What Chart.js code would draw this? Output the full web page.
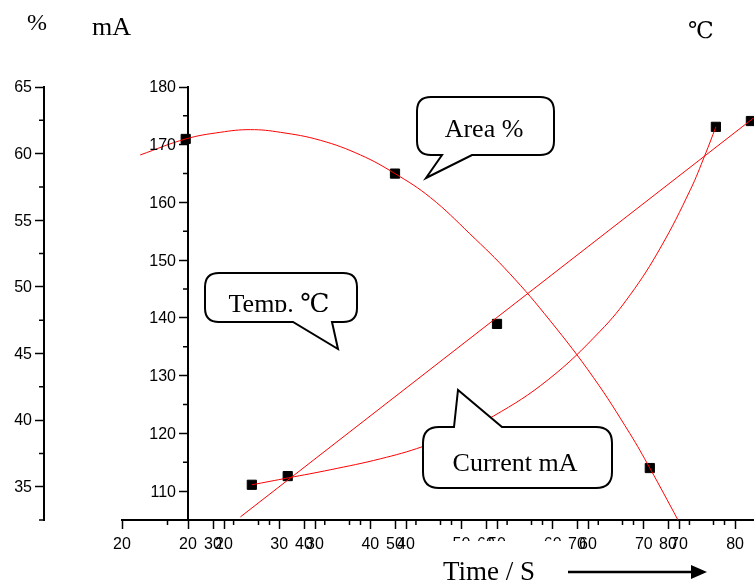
<!DOCTYPE html>
<html>
<head>
<meta charset="utf-8">
<script src="https://cdn.jsdelivr.net/npm/chart.js@4.4.1/dist/chart.umd.min.js"></script>
<style>
  html, body { margin: 0; padding: 0; background: #fff; }
</style>
</head>
<body>
<canvas id="chart" width="754" height="582"></canvas>
<script>
// data
const areaX = [27.0, 50.0, 78.0]
const areaY = [61.1, 58.5, 36.4]
const currentX = [27.0, 49.8, 77.9]
const currentY = [111.1, 120.4, 173.1]
const tempX = [27.0, 50.0, 77.9]
const tempY = [37.1, 61.7, 94.5]

// red fit curves
const areaFitX = [22.0, 27.0, 30.8, 34.1, 37.4, 41.8, 46.2, 50.0, 53.9, 58.2, 62.6, 67.0, 71.8, 75.8, 78.0, 81.1]
const areaFitY = [59.9, 61.1, 61.6, 61.8, 61.6, 61.0, 59.9, 58.5, 56.7, 54.0, 51.0, 47.5, 43.2, 39.0, 36.4, 32.5]
const currentFitX = [27.0, 31.0, 35.6, 41.1, 45.7, 49.8, 53.5, 59.5, 65.2, 68.5, 71.8, 75.1, 76.7, 77.9]
const currentFitY = [111.1, 112.3, 113.7, 115.6, 117.7, 120.4, 123.0, 129.3, 137.7, 144.0, 152.1, 162.2, 168.2, 173.1]
const tempFitX = [21.8, 78.2]
const tempFitY = [30.5, 95.0]

// tick labels
const timeTicksA = [20, 30, 40, 50, 60, 70, 80]
const timeTicksB = [20, 30, 40, 50, 60, 70, 80]
const timeTicksC = [20, 30, 40, 50, 60, 70]
const pctTicks = [35, 40, 45, 50, 55, 60, 65]
const mATicks = [110, 120, 130, 140, 150, 160, 170, 180]

const pts = (xs, ys) => xs.map((x, i) => ({ x, y: ys[i] }))

const tickFont = { family: '"Liberation Sans", Arial, sans-serif', size: 16 }
const serif = '"Liberation Serif", "DejaVu Serif", serif'

const noPad = s => { s.paddingLeft = 0; s.paddingRight = 0; s.paddingTop = 0; s.paddingBottom = 0 }

function xScale(min, max, vals) {
  return {
    type: 'linear', min, max,
    position: { yMA: 105 },
    afterBuildTicks: s => { s.ticks = vals.map(v => ({ value: v })) },
    afterFit: noPad,
    grid: { drawOnChartArea: false, tickLength: 8, tickColor: '#000', tickWidth: 1.5 },
    border: { color: '#000', width: 2 },
    ticks: { color: '#000', font: tickFont, padding: 7, maxRotation: 0, autoSkip: false }
  }
}

// y labels are drawn by the plugin below, beside the axis line
function yScale(min, max, vals, pos) {
  return {
    type: 'linear', min, max,
    position: pos,
    afterBuildTicks: s => { s.ticks = vals.map(v => ({ value: v })) },
    afterFit: noPad,
    grid: { drawOnChartArea: false, tickLength: 8, tickColor: '#000', tickWidth: 1.5 },
    border: { color: '#000', width: 2 },
    ticks: { display: false }
  }
}

// short ticks between the labelled ones + y tick labels
const axisExtras = {
  id: 'axisExtras',
  afterDraw(chart) {
    const ctx = chart.ctx
    const list = [
      ['xA', 'x', [25, 35, 45, 55, 65, 75, 85]],
      ['xB', 'x', [25, 35, 45, 55, 65, 75]],
      ['xC', 'x', [25, 35, 45, 55, 65, 75]],
      ['yPct', 'y', [32.5, 37.5, 42.5, 47.5, 52.5, 57.5, 62.5]],
      ['yMA', 'y', [105, 115, 125, 135, 145, 155, 165, 175]]
    ]
    ctx.save()
    ctx.strokeStyle = '#000'
    ctx.fillStyle = '#000'
    ctx.lineWidth = 1.5
    ctx.font = '16px "Liberation Sans", Arial, sans-serif'
    ctx.textAlign = 'right'
    ctx.textBaseline = 'middle'
    list.forEach(([id, axis, vals]) => {
      const s = chart.scales[id]
      ctx.beginPath()
      if (axis === 'x') {
        const y0 = chart.scales.yMA.getPixelForValue(105)
        vals.forEach(v => {
          if (v < s.min || v > s.max) return
          const px = s.getPixelForValue(v)
          ctx.moveTo(px, y0); ctx.lineTo(px, y0 + 5)
        })
      } else {
        const pos = s.options.position
        const key = Object.keys(pos)[0]
        const x0 = chart.scales[key].getPixelForValue(pos[key])
        vals.forEach(v => {
          if (v < s.min || v > s.max) return
          const py = s.getPixelForValue(v)
          ctx.moveTo(x0, py); ctx.lineTo(x0 - 5, py)
        })
        s.ticks.forEach(t => {
          ctx.fillText(String(t.value), x0 - 12, s.getPixelForValue(t.value) + 1)
        })
      }
      ctx.stroke()
    })
    ctx.restore()
  }
}

function bubble(ctx, b) {
  const { l, t, r, btm, rad, edge, p1, p2, tip } = b
  ctx.beginPath()
  ctx.moveTo(l + rad, t)
  if (edge === 'top') { ctx.lineTo(p1, t); ctx.lineTo(tip[0], tip[1]); ctx.lineTo(p2, t) }
  ctx.lineTo(r - rad, t)
  ctx.quadraticCurveTo(r, t, r, t + rad)
  ctx.lineTo(r, btm - rad)
  ctx.quadraticCurveTo(r, btm, r - rad, btm)
  if (edge === 'bottom') { ctx.lineTo(p2, btm); ctx.lineTo(tip[0], tip[1]); ctx.lineTo(p1, btm) }
  ctx.lineTo(l + rad, btm)
  ctx.quadraticCurveTo(l, btm, l, btm - rad)
  ctx.lineTo(l, t + rad)
  ctx.quadraticCurveTo(l, t, l + rad, t)
  ctx.closePath()
  ctx.fillStyle = '#fff'
  ctx.fill()
  ctx.strokeStyle = '#000'
  ctx.lineWidth = 2
  ctx.stroke()
}

// callouts, axis titles, arrow
const extras = {
  id: 'extras',
  afterDraw(chart) {
    const ctx = chart.ctx
    ctx.save()

    bubble(ctx, { l: 417, t: 97, r: 554, btm: 155, rad: 14, edge: 'bottom', p1: 442, p2: 472, tip: [426, 178] })
    bubble(ctx, { l: 205, t: 273, r: 357, btm: 322, rad: 14, edge: 'bottom', p1: 293, p2: 332, tip: [338, 349] })
    bubble(ctx, { l: 423, t: 427, r: 612, btm: 488, rad: 16, edge: 'top', p1: 454, p2: 502, tip: [458, 390] })

    ctx.fillStyle = '#000'
    ctx.textAlign = 'center'
    ctx.textBaseline = 'alphabetic'
    ctx.font = '26px ' + serif
    ctx.fillText('Area %', 484, 137)
    ctx.fillText('Current mA', 515, 471)

    ctx.save()
    ctx.beginPath()
    ctx.rect(205, 273, 152, 39)
    ctx.clip()
    ctx.fillText('Temp. ℃', 279, 312)
    ctx.restore()

    // the label box of the x title hides part of the tick labels
    ctx.fillStyle = '#fff'
    ctx.fillRect(450, 541, 117, 16)

    ctx.fillStyle = '#000'
    ctx.textAlign = 'left'
    ctx.font = '24px ' + serif
    ctx.fillText('%', 27, 30)
    ctx.font = '26px ' + serif
    ctx.fillText('mA', 92, 35)
    ctx.font = '23px ' + serif
    ctx.fillText('℃', 688, 38)
    ctx.font = '27px ' + serif
    ctx.fillText('Time / S', 443, 580)

    ctx.strokeStyle = '#000'
    ctx.lineWidth = 2.5
    ctx.beginPath()
    ctx.moveTo(568, 572); ctx.lineTo(694, 572)
    ctx.stroke()
    ctx.beginPath()
    ctx.moveTo(707, 572); ctx.lineTo(691, 565); ctx.lineTo(691, 579); ctx.closePath()
    ctx.fill()

    ctx.restore()
  }
}

const square = { showLine: false, pointStyle: 'rect', pointRadius: 6.5, pointBackgroundColor: '#000', pointBorderColor: '#000', pointBorderWidth: 1 }
const redFit = { showLine: true, borderColor: '#ff0000', borderWidth: 1, pointRadius: 0, tension: 0.4 }

new Chart(document.getElementById('chart'), {
  type: 'scatter',
  data: {
    datasets: [
      { label: 'Area fit', data: pts(areaFitX, areaFitY), xAxisID: 'xA', yAxisID: 'yPct', ...redFit },
      { label: 'Current fit', data: pts(currentFitX, currentFitY), xAxisID: 'xB', yAxisID: 'yMA', ...redFit },
      { label: 'Temp fit', data: pts(tempFitX, tempFitY), xAxisID: 'xC', yAxisID: 'yTemp', ...redFit, tension: 0 },
      { label: 'Area %', data: pts(areaX, areaY), xAxisID: 'xA', yAxisID: 'yPct', ...square },
      { label: 'Current mA', data: pts(currentX, currentY), xAxisID: 'xB', yAxisID: 'yMA', ...square },
      { label: 'Temp. ℃', data: pts(tempX, tempY), xAxisID: 'xC', yAxisID: 'yTemp', ...square }
    ]
  },
  options: {
    responsive: false,
    animation: false,
    devicePixelRatio: 1,
    layout: { autoPadding: false, padding: { left: 122, top: 87, right: 0, bottom: 62 } },
    plugins: { legend: { display: false }, tooltip: { enabled: false } },
    scales: {
      xA: xScale(20, 89.45, timeTicksA),
      xB: xScale(12.76, 82.08, timeTicksB),
      xC: xScale(8.79, 78.24, timeTicksC),
      yPct: yScale(32.5, 65, pctTicks, { xA: 11.43 }),
      yMA: yScale(105, 180, mATicks, { xB: 20 }),
      yTemp: { type: 'linear', min: 30, max: 100, display: false, afterFit: noPad }
    }
  },
  plugins: [axisExtras, extras]
})
</script>
</body>
</html>
